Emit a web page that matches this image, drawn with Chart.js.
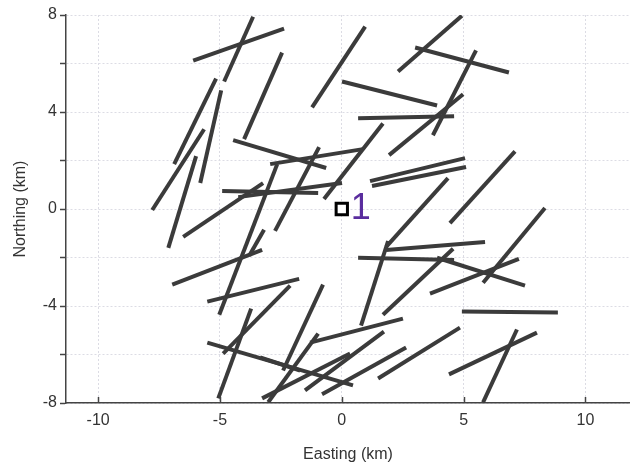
<!DOCTYPE html>
<html>
<head>
<meta charset="utf-8">
<script src="https://cdn.jsdelivr.net/npm/chart.js@4.4.1/dist/chart.umd.min.js"></script>
<style>
  html, body { margin: 0; padding: 0; background: #fff; overflow: hidden; }
  canvas { display: block; }
</style>
</head>
<body>
<canvas id="lineamentChart" width="630" height="465"></canvas>
<script>
// segment end points (km)
const segX1 = [-6.10, -4.83, -4.01, -6.88, -5.81, -7.78, -7.12, -4.46, -4.91, -4.25, -6.51, -2.94, -1.22, 2.31, 3.01, 0.01, 5.51, 1.94, 0.67, -0.73, 1.16, 1.24, 1.82, 0.79, 1.82, 0.67, 3.91, 1.69, 3.62, 4.44, 5.80, 4.93, 4.40, 5.80, 1.49, -0.81, -3.27, -1.51, -1.30, -5.52, -3.35, -2.74, -5.03, -2.41, -3.02, -3.80, -6.96, -5.52, -4.87, -5.07];
const segY1 = [6.12, 5.26, 2.88, 1.85, 1.07, -0.04, -1.60, 2.84, 0.74, 0.49, -1.15, 1.85, 4.19, 5.67, 6.66, 5.26, 6.54, 2.22, 3.74, 0.41, 1.15, 0.95, -1.56, -4.81, -1.69, -2.01, -2.01, -4.36, -3.49, -0.58, -3.04, -4.23, -6.82, -7.97, -6.99, -7.64, -7.81, -7.48, -5.51, -5.51, -6.12, -0.90, -4.36, -6.66, -7.97, -1.93, -3.12, -3.82, -5.96, -7.81];
const segX2 = [-2.37, -3.64, -2.45, -5.16, -4.95, -5.65, -5.98, -0.64, -0.97, 0.01, -3.23, 0.87, 0.96, 4.93, 6.86, 3.91, 3.74, 4.98, 4.61, 1.69, 5.06, 5.10, 4.36, 1.90, 5.88, 4.61, 7.52, 4.57, 7.27, 7.11, 8.34, 8.87, 8.01, 7.19, 4.85, 2.64, 0.34, 1.73, 2.51, 0.46, -1.71, -0.93, -2.65, -0.77, -0.97, -3.19, -3.27, -1.75, -2.12, -3.72];
const segY2 = [7.44, 7.93, 6.45, 5.38, 4.89, 3.29, 2.18, 1.69, 0.66, 1.07, 1.07, 2.47, 7.52, 7.97, 5.63, 4.27, 3.04, 4.73, 3.82, 3.53, 2.10, 1.73, 1.27, -1.32, -1.36, -2.10, -3.16, -1.64, -2.06, 2.38, 0.04, -4.27, -5.10, -4.97, -4.89, -5.71, -5.96, -5.06, -4.52, -7.27, -6.66, 2.55, 1.85, -3.12, -5.14, -0.86, -1.69, -2.88, -3.16, -4.11];

// station marker
const stationX = [0];
const stationY = [0];
const stationLabels = ['1'];

const xTicks = [-10, -5, 0, 5, 10];
const yTicks = [-8, -6, -4, -2, 0, 2, 4, 6, 8];

const axisColor = '#444';
const gridColor = '#dcdce4';
const textColor = '#333';
const fontFamily = '"Liberation Sans", Arial, sans-serif';

const datasets = segX1.map((x1, i) => ({
    data: [{ x: x1, y: segY1[i] }, { x: segX2[i], y: segY2[i] }],
    showLine: true,
    pointRadius: 0,
    borderColor: '#3b3b3b',
    borderWidth: 4,
    borderCapStyle: 'butt'
}));

datasets.push({
    data: stationX.map((x, i) => ({ x: x, y: stationY[i] })),
    showLine: false,
    pointStyle: 'rect',
    pointRadius: 8,
    pointBorderWidth: 3,
    pointBorderColor: '#000',
    pointBackgroundColor: '#fff'
});

// let the plot run up to the right edge of the canvas, as in the original
const fullRight = {
    id: 'fullRight',
    afterLayout(chart) {
        const x = chart.scales.x;
        chart.chartArea.right = chart.width;
        chart.chartArea.width = chart.chartArea.right - chart.chartArea.left;
        x.right = chart.width;
        x.width = x.right - x.left;
        x.configure();
    }
};

// draws the station label and the inward x tick marks
const extras = {
    id: 'extras',
    afterDatasetsDraw(chart) {
        const { ctx, scales: { x, y }, chartArea } = chart;
        ctx.save();
        ctx.strokeStyle = axisColor;
        ctx.lineWidth = 1.5;
        xTicks.forEach(v => {
            const px = Math.round(x.getPixelForValue(v)) + 0.5;
            ctx.beginPath();
            ctx.moveTo(px, chartArea.bottom);
            ctx.lineTo(px, chartArea.bottom - 6);
            ctx.stroke();
        });
        ctx.fillStyle = '#5a2d9e';
        ctx.font = '36px ' + fontFamily;
        ctx.textBaseline = 'middle';
        stationX.forEach((sx, i) => {
            ctx.fillText(stationLabels[i], x.getPixelForValue(sx) + 9, y.getPixelForValue(stationY[i]));
        });
        ctx.restore();
    }
};

new Chart(document.getElementById('lineamentChart'), {
    type: 'scatter',
    data: { datasets },
    options: {
        responsive: false,
        animation: false,
        layout: { padding: { top: 15, right: 0, left: 0, bottom: 0 } },
        plugins: { legend: { display: false }, tooltip: { enabled: false } },
        scales: {
            x: {
                type: 'linear', min: -11.32, max: 11.83,
                afterBuildTicks: s => { s.ticks = xTicks.map(v => ({ value: v })); },
                afterFit: s => { s.height = 62; },
                grid: { color: gridColor, drawTicks: false },
                border: { color: axisColor, width: 1.5, dash: [2, 2] },
                ticks: { color: textColor, font: { size: 16, family: fontFamily }, padding: 8 },
                title: { display: true, text: 'Easting (km)', color: textColor, font: { size: 16, family: fontFamily }, padding: { top: 0, bottom: 1 } }
            },
            y: {
                type: 'linear', min: -8, max: 8,
                afterBuildTicks: s => { s.ticks = yTicks.map(v => ({ value: v })); },
                afterFit: s => { s.width = 66; },
                grid: { color: gridColor, tickColor: axisColor, tickLength: 6, tickBorderDash: [], tickWidth: 1.5 },
                border: { color: axisColor, width: 1.5, dash: [2, 2] },
                ticks: { color: textColor, font: { size: 16, family: fontFamily }, padding: 3,
                    callback: v => (v % 4 === 0 ? v : '') },
                title: { display: true, text: 'Northing (km)', color: textColor, font: { size: 16, family: fontFamily }, padding: { top: 11, bottom: 0 } }
            }
        }
    },
    plugins: [fullRight, extras]
});
</script>
</body>
</html>
